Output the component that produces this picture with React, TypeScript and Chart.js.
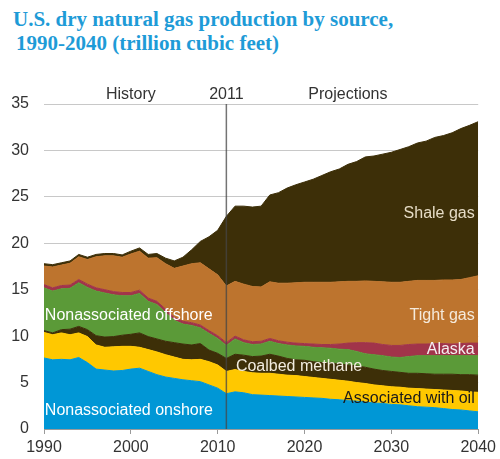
import React, { useEffect, useRef } from "react";
import { Chart, registerables } from "chart.js";

Chart.register(...registerables);

const years = [
  1990, 1991, 1992, 1993, 1994, 1995, 1996, 1997, 1998, 1999,
  2000, 2001, 2002, 2003, 2004, 2005, 2006, 2007, 2008, 2009,
  2010, 2011, 2012, 2013, 2014, 2015, 2016, 2017, 2018, 2019,
  2020, 2021, 2022, 2023, 2024, 2025, 2026, 2027, 2028, 2029,
  2030, 2031, 2032, 2033, 2034, 2035, 2036, 2037, 2038, 2039, 2040,
];

const onshore = [
  7.65, 7.45, 7.5, 7.45, 7.7, 7.15, 6.45, 6.35, 6.25, 6.3,
  6.45, 6.55, 6.2, 5.85, 5.6, 5.45, 5.3, 5.2, 5.1, 4.75,
  4.4, 3.8, 4.0, 3.9, 3.7, 3.65, 3.6, 3.55, 3.5, 3.45,
  3.4, 3.35, 3.3, 3.2, 3.15, 3.05, 3.0, 2.9, 2.8, 2.75,
  2.65, 2.6, 2.5, 2.4, 2.35, 2.3, 2.2, 2.1, 2.05, 1.95, 1.85,
];

const assocOil = [
  2.75, 2.7, 2.85, 2.7, 2.65, 2.8, 2.6, 2.45, 2.6, 2.6,
  2.45, 2.25, 2.35, 2.45, 2.4, 2.3, 2.2, 2.25, 2.4, 2.5,
  2.5, 2.4, 2.4, 2.3, 2.35, 2.35, 2.4, 2.35, 2.3, 2.3,
  2.25, 2.2, 2.15, 2.15, 2.1, 2.1, 2.0, 2.0, 1.95, 1.9,
  1.9, 1.9, 1.9, 1.95, 1.95, 1.95, 2.0, 2.05, 2.05, 2.05, 2.1,
];

const coalbed = [
  0.2, 0.2, 0.35, 0.6, 0.7, 0.75, 1.0, 1.1, 1.1, 1.2,
  1.3, 1.55, 1.4, 1.4, 1.45, 1.55, 1.65, 1.6, 1.7, 1.25,
  1.25, 1.4, 1.65, 1.75, 1.75, 1.85, 2.05, 1.95, 1.8, 1.7,
  1.75, 1.7, 1.7, 1.75, 1.75, 1.75, 1.8, 1.75, 1.7, 1.65,
  1.65, 1.6, 1.6, 1.65, 1.65, 1.65, 1.7, 1.75, 1.75, 1.85, 1.85,
];

const offshore = [
  4.6, 4.5, 4.4, 4.4, 4.7, 4.55, 4.8, 4.75, 4.5, 4.25,
  4.15, 4.25, 3.8, 3.7, 3.1, 2.4, 2.15, 2.1, 1.7, 1.8,
  1.6, 1.4, 1.65, 1.35, 1.3, 1.3, 1.4, 1.35, 1.45, 1.5,
  1.5, 1.55, 1.6, 1.6, 1.6, 1.65, 1.55, 1.45, 1.55, 1.6,
  1.55, 1.6, 1.8, 1.9, 1.95, 2.0, 2.0, 2.0, 2.05, 2.05, 2.1,
];

const alaska = [
  0.35, 0.35, 0.35, 0.35, 0.35, 0.35, 0.35, 0.35, 0.35, 0.35,
  0.35, 0.35, 0.35, 0.35, 0.35, 0.3, 0.3, 0.3, 0.3, 0.3,
  0.3, 0.3, 0.3, 0.3, 0.3, 0.3, 0.3, 0.3, 0.3, 0.3,
  0.3, 0.35, 0.35, 0.4, 0.55, 0.7, 0.95, 1.2, 1.25, 1.2,
  1.25, 1.3, 1.3, 1.25, 1.25, 1.3, 1.3, 1.25, 1.3, 1.35, 1.35,
];

const tight = [
  2.0, 2.25, 2.2, 2.35, 2.45, 2.65, 3.35, 3.65, 3.85, 3.8,
  4.15, 4.2, 4.3, 4.7, 4.9, 5.3, 5.95, 6.35, 6.7, 6.65,
  6.55, 6.1, 5.9, 6.0, 5.95, 5.85, 6.1, 6.2, 6.35, 6.5,
  6.6, 6.65, 6.7, 6.7, 6.7, 6.65, 6.6, 6.65, 6.65, 6.75,
  6.8, 6.8, 6.8, 6.85, 6.85, 6.8, 6.85, 6.9, 6.9, 7.05, 7.25,
];

const shale = [
  0.25, 0.25, 0.25, 0.25, 0.25, 0.25, 0.25, 0.25, 0.25, 0.25,
  0.3, 0.35, 0.4, 0.45, 0.6, 0.8, 0.95, 1.5, 2.3, 3.45,
  4.8, 7.5, 8.1, 8.4, 8.55, 8.7, 9.35, 9.75, 10.25, 10.55,
  10.8, 11.1, 11.5, 11.9, 12.15, 12.6, 12.9, 13.35, 13.5, 13.75,
  14.0, 14.3, 14.5, 14.8, 15.0, 15.4, 15.55, 15.85, 16.25, 16.4, 16.6,
];

const seriesNames = [
  "Nonassociated onshore",
  "Associated with oil",
  "Coalbed methane",
  "Nonassociated offshore",
  "Alaska",
  "Tight gas",
  "Shale gas",
];

const seriesColors = [
  "#0097D6",
  "#FFC800",
  "#3D2F08",
  "#5B9A38",
  "#A1344A",
  "#BD742E",
  "#3D2F08",
];

const yTicks = [0, 5, 10, 15, 20, 25, 30, 35];
const xTicks = [1990, 2000, 2010, 2020, 2030, 2040];
const splitYear = 2011;

// in-chart labels: text, anchor year, value, alignment, color
const areaLabels: [string, number, number, CanvasTextAlign, string][] = [
  ["Nonassociated offshore", 1990.1, 12.25, "left", "#FFFFFF"],
  ["Nonassociated onshore", 1990.1, 1.95, "left", "#FFFFFF"],
  ["Coalbed methane", 2012.1, 6.7, "left", "#F2ECDF"],
  ["Associated with oil", 2039.6, 3.25, "right", "#1A1A1A"],
  ["Alaska", 2039.6, 8.6, "right", "#F5EEF0"],
  ["Tight gas", 2039.6, 12.2, "right", "#F5EADB"],
  ["Shale gas", 2039.6, 23.25, "right", "#E6DCC6"],
];

const periodLabels: [string, number][] = [
  ["History", 2000],
  ["2011", 2011],
  ["Projections", 2025],
];

const FONT = "'Liberation Sans', Arial, sans-serif";

export default function App() {
  const ref = useRef<HTMLCanvasElement>(null);

  useEffect(() => {
    if (!ref.current) return;
    const series = [onshore, assocOil, coalbed, offshore, alaska, tight, shale];

    const overlay = {
      id: "overlay",
      afterDatasetsDraw(chart: any) {
        const { ctx, chartArea } = chart;
        const xs = chart.scales.x;
        const ys = chart.scales.y;
        ctx.save();
        // 2011 divider
        const lx = xs.getPixelForValue(splitYear);
        ctx.strokeStyle = "rgba(70,70,70,0.75)";
        ctx.lineWidth = 1.5;
        ctx.beginPath();
        ctx.moveTo(lx, chartArea.top);
        ctx.lineTo(lx, chartArea.bottom);
        ctx.stroke();

        ctx.font = `16px ${FONT}`;
        ctx.textBaseline = "middle";
        ctx.fillStyle = "#333333";
        ctx.textAlign = "center";
        for (const [t, yr] of periodLabels) {
          ctx.fillText(t, xs.getPixelForValue(yr), chartArea.top - 9);
        }
        for (const [t, yr, v, al, col] of areaLabels) {
          ctx.textAlign = al;
          ctx.fillStyle = col;
          ctx.fillText(t, xs.getPixelForValue(yr), ys.getPixelForValue(v));
        }
        ctx.restore();
      },
    };

    const chart = new Chart(ref.current, {
      type: "line",
      data: {
        datasets: series.map((s, i) => ({
          label: seriesNames[i],
          data: s.map((v, j) => ({ x: years[j], y: v })),
          backgroundColor: seriesColors[i],
          borderColor: seriesColors[i],
          borderWidth: 1,
          pointRadius: 0,
          tension: 0,
          fill: i === 0 ? "origin" : "-1",
        })),
      },
      options: {
        animation: false,
        responsive: false,
        layout: { padding: { top: 104, right: 19, left: 0, bottom: 0 } },
        plugins: {
          legend: { display: false },
          tooltip: { enabled: false },
          title: { display: false },
        },
        scales: {
          x: {
            type: "linear",
            min: 1990,
            max: 2040,
            afterBuildTicks: (s: any) => {
              s.ticks = xTicks.map((v) => ({ value: v }));
            },
            ticks: {
              callback: (v: any) => String(v),
              font: { family: FONT, size: 16 },
              color: "#333333",
              padding: 4,
              maxRotation: 0,
            },
            grid: {
              drawOnChartArea: false,
              drawTicks: true,
              tickLength: 5,
              color: "#9A9A9A",
            },
            border: { display: true, color: "#9A9A9A" },
            afterFit: (s: any) => {
              s.height = 30;
            },
          },
          y: {
            stacked: true,
            min: 0,
            max: 35,
            afterBuildTicks: (s: any) => {
              s.ticks = yTicks.map((v) => ({ value: v }));
            },
            ticks: {
              font: { family: FONT, size: 16 },
              color: "#333333",
              padding: 15,
            },
            grid: { color: "#C8C8C8", drawTicks: false, lineWidth: 1 },
            border: { display: false },
            afterFit: (s: any) => {
              s.width = 44;
            },
          },
        },
      },
      plugins: [overlay],
    });
    return () => chart.destroy();
  }, []);

  const titleStyle: React.CSSProperties = {
    position: "absolute",
    fontFamily: "'Liberation Serif', 'Times New Roman', serif",
    fontWeight: "bold",
    fontSize: 21,
    lineHeight: "24px",
    color: "#1E9BD7",
    whiteSpace: "pre",
    margin: 0,
  };

  return (
    <div
      style={{
        position: "fixed",
        left: 0,
        top: 0,
        width: 500,
        height: 459,
        background: "#ffffff",
        overflow: "hidden",
      }}
    >
      <div style={{ ...titleStyle, left: 13, top: 7 }}>
        U.S. dry natural gas production by source,
      </div>
      <div style={{ ...titleStyle, left: 16, top: 31 }}>
        1990-2040 (trillion cubic feet)
      </div>
      <canvas
        ref={ref}
        width={500}
        height={459}
        style={{ position: "absolute", left: 0, top: 0, width: 500, height: 459 }}
      />
    </div>
  );
}
